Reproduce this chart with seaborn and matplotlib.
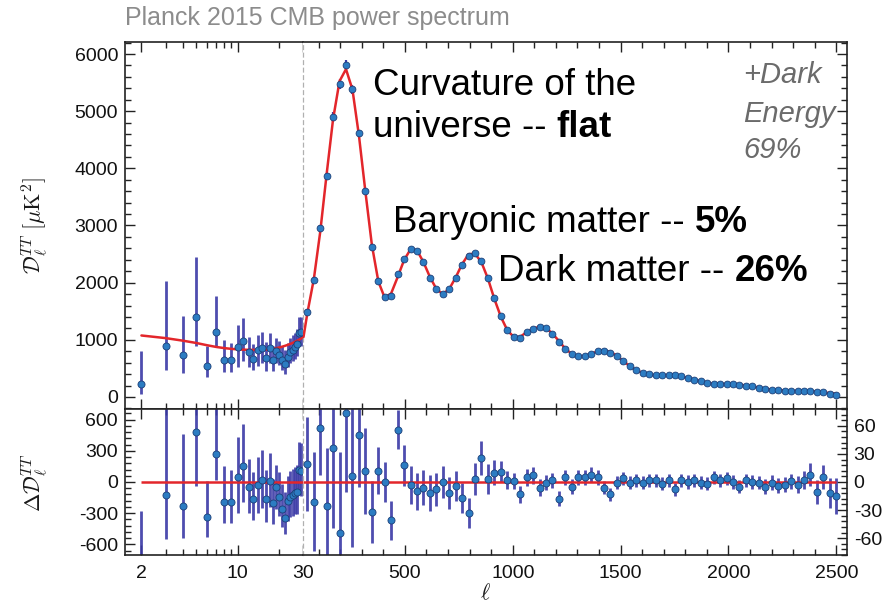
import matplotlib
matplotlib.use("Agg")
import matplotlib.pyplot as plt
import seaborn as sns
import numpy as np
import pandas as pd
from matplotlib.ticker import FixedLocator, NullFormatter, FuncFormatter, MultipleLocator, AutoMinorLocator

sns.set_style("ticks")
plt.rcParams['font.family'] = ['Liberation Sans', 'DejaVu Sans']
plt.rcParams['mathtext.fontset'] = 'cm'
plt.rcParams['axes.unicode_minus'] = False

# ---------------- data ----------------
ell_low = [2, 3, 4, 5, 6, 7, 8, 9, 10, 11, 12, 13, 14, 15, 16, 17, 18, 19,
           20, 21, 22, 23, 24, 25, 26, 27, 28, 29]
dl_low = [230, 890, 730, 1405, 540, 1135, 655, 650, 875, 985, 780, 670, 815, 860,
          680, 850, 655, 812, 740, 650, 570, 705, 785, 825, 870, 930, 1125, 1135]
err_low_plus = [570, 1140, 690, 1050, 350, 630, 340, 300, 390, 400, 270, 265, 270, 285,
                275, 275, 235, 220, 240, 240, 245, 245, 250, 255, 255, 260, 270, 270]
err_low_minus = [180, 420, 310, 520, 190, 250, 210, 210, 350, 350, 255, 205, 270, 270,
                 225, 250, 205, 210, 180, 180, 160, 185, 190, 200, 205, 210, 230, 235]
res_low = [-846, -129, -229, 484, -339, 271, -188, -188, 48, 158, -48, -164, -26, 22,
           -161, 6, -203, -52, -148, -258, -342, -187, -148, -129, -106, -97, 113, 103]

model_ell_low = [2, 3, 4, 5, 6, 7, 8, 9, 10, 11, 12, 13, 14, 15, 16, 17, 18, 19,
                 20, 21, 22, 23, 24, 25, 26, 27, 28, 29, 30]
model_low = [1076, 1030, 985, 945, 905, 875, 855, 842, 833, 828, 825, 824, 824, 826,
             830, 836, 844, 854, 866, 880, 895, 911, 928, 946, 965, 985, 1006, 1028, 1050]

ell_high = [48, 78, 108, 137, 167, 197, 227, 257, 287, 317, 347, 377, 406, 436, 466,
            496, 526, 556, 586, 616, 646, 676, 706, 735, 765, 795, 825, 855, 885, 915,
            945, 975, 1005, 1034, 1064, 1094, 1124, 1154, 1184, 1214, 1244, 1274, 1304,
            1333, 1363, 1393, 1423, 1453, 1483, 1513, 1543, 1573, 1603, 1632, 1662, 1692,
            1722, 1752, 1782, 1812, 1842, 1872, 1902, 1931, 1961, 1991, 2021, 2051, 2081,
            2111, 2141, 2171, 2201, 2230, 2260, 2290, 2320, 2350, 2380, 2410, 2440, 2470,
            2500]
dl_high = [1489, 2044, 2960, 3865, 4893, 5471, 5809, 5383, 4623, 3602, 2627, 2032, 1741,
           1769, 2149, 2411, 2581, 2557, 2354, 2088, 1881, 1799, 1881, 2084, 2306, 2464,
           2511, 2382, 2073, 1723, 1413, 1168, 1051, 1039, 1138, 1197, 1226, 1209, 1110,
           963, 847, 748, 716, 720, 760, 806, 806, 777, 718, 630, 538, 468, 420, 397, 380,
           380, 385, 380, 362, 333, 303, 275, 252, 234, 234, 228, 222, 216, 199, 187, 164,
           140, 129, 117, 111, 105, 105, 111, 105, 88, 82, 59, 41]
res_high = [19, -21, 58, -26, 36, -54, 74, 6, 50, 12, -32, 12, 0, -41, 56, 18, -3, -10,
            -6, -12, -8, 0, -12, -4, -17, -33, 3, 26, 3, 10, 11, 2, 1, -13, 5, 7, -6, -1,
            2, -18, 5, -5, 5, 5, 8, 5, -6, -13, -1, 4, -1, 2, -1, 2, 2, -2, 2, -8, 2, 0,
            2, -1, -2, 5, 2, 4, 0, -5, 2, 0, -1, -5, -1, -4, -3, 1, -3, 2, 8, -11, 5,
            -12, -15]
err_high = [50, 53, 50, 62, 85, 86, 85, 75, 55, 46, 33, 25, 21, 21, 21, 22, 20, 20, 19,
            19, 18, 17, 17, 16, 16, 16, 17, 18, 16, 13, 11, 10, 9, 9, 9, 9, 9, 8, 8, 8,
            8, 8, 8, 8, 8, 8, 7, 7, 7, 7, 7, 7, 7, 7, 7, 7, 7, 7, 7, 7, 7, 7, 7, 7, 7,
            7, 7, 7, 7, 7, 7, 8, 8, 8, 8, 8, 9, 10, 12, 13, 13, 16, 19]

model_ell_high = [30] + ell_high
model_high = [1050, 1470, 2065, 2902, 3891, 4857, 5525, 5735, 5377, 4573, 3590, 2659,
              2020, 1741, 1810, 2093, 2393, 2584, 2567, 2360, 2100, 1889, 1799, 1893,
              2088, 2323, 2497, 2508, 2356, 2070, 1713, 1402, 1166, 1050, 1052, 1133,
              1190, 1232, 1210, 1108, 981, 842, 753, 711, 715, 752, 801, 812, 790, 719,
              626, 539, 466, 421, 395, 378, 382, 383, 388, 360, 333, 301, 276, 254, 229,
              232, 224, 222, 221, 197, 187, 165, 145, 130, 121, 114, 104, 108, 109, 97,
              99, 77, 71, 56]

low_ticks = [2, 10, 30]
low_minor = [3, 4, 5, 6, 7, 8, 9, 20]
top_yticks = [0, 1000, 2000, 3000, 4000, 5000, 6000]
res_left_ticks = [-600, -300, 0, 300, 600]
res_right_ticks = [-60, -30, 0, 30, 60]

# ---------------- style ----------------
RED = "#e3262b"
PT = "#2c7cc2"
PTE = "#1c3f78"
BAR = "#3b3aa6"
SPINE = "#222222"
W, H = 895, 609

fig = plt.figure(figsize=(W / 100, H / 100), dpi=100)

XL0, XB, XR = 125, 303.5, 846.7
YT, YM, YB = 42, 409, 555

def rect(x0, x1, y0, y1):
    return [x0 / W, 1 - y1 / H, (x1 - x0) / W, (y1 - y0) / H]

ax_tl = fig.add_axes(rect(XL0, XB, YT, YM))
ax_tr = fig.add_axes(rect(XB, XR, YT, YM))
ax_bl = fig.add_axes(rect(XL0, XB, YM, YB))
ax_br = fig.add_axes(rect(XB, XR, YM, YB))

# --- top low-l
ax_tl.errorbar(ell_low, dl_low, yerr=[err_low_minus, err_low_plus], fmt='none',
               ecolor=BAR, elinewidth=2.0, capsize=0, alpha=0.9, zorder=2)
sns.lineplot(x=model_ell_low, y=model_low, ax=ax_tl, color=RED, lw=1.8,
             sort=False, estimator=None, zorder=3)
sns.scatterplot(x=ell_low, y=dl_low, ax=ax_tl, s=26, color=PT, edgecolor=PTE,
                linewidth=0.6, zorder=4)

# --- top high-l
ax_tr.errorbar(ell_high, dl_high, yerr=err_high, fmt='none', ecolor=BAR,
               elinewidth=1.6, capsize=0, zorder=2)
sns.lineplot(x=model_ell_high, y=model_high, ax=ax_tr, color=RED, lw=1.8,
             sort=False, estimator=None, zorder=3)
sns.scatterplot(x=ell_high, y=dl_high, ax=ax_tr, s=24, color=PT, edgecolor=PTE,
                linewidth=0.6, zorder=4)

# --- residual low-l
ax_bl.errorbar(ell_low, res_low, yerr=[err_low_minus, err_low_plus], fmt='none',
               ecolor=BAR, elinewidth=2.0, capsize=0, alpha=0.9, zorder=2)
ax_bl.hlines(0, ell_low[0], 30, color=RED, lw=1.8, zorder=3)
sns.scatterplot(x=ell_low, y=res_low, ax=ax_bl, s=26, color=PT, edgecolor=PTE,
                linewidth=0.6, zorder=4)

# --- residual high-l
ax_br.errorbar(ell_high, res_high, yerr=err_high, fmt='none', ecolor=BAR,
               elinewidth=2.0, capsize=0, alpha=0.9, zorder=2)
ax_br.hlines(0, 30, ell_high[-1], color=RED, lw=1.8, zorder=3)
sns.scatterplot(x=ell_high, y=res_high, ax=ax_br, s=26, color=PT, edgecolor=PTE,
                linewidth=0.6, zorder=4)

# --- axes setup
for ax in (ax_tl, ax_bl):
    ax.set_xscale('log')
    ax.set_xlim(1.52, 30)
    ax.xaxis.set_major_locator(FixedLocator(low_ticks))
    ax.xaxis.set_major_formatter(FuncFormatter(lambda v, p: f"{v:g}"))
    ax.xaxis.set_minor_locator(FixedLocator(low_minor))
    ax.xaxis.set_minor_formatter(NullFormatter())
    ax.spines['right'].set_visible(False)
for ax in (ax_tr, ax_br):
    ax.set_xlim(30, 2548)
    ax.xaxis.set_major_locator(MultipleLocator(500))
    ax.xaxis.set_minor_locator(MultipleLocator(100))
    ax.spines['left'].set_linestyle((0, (3, 3)))
    ax.spines['left'].set_color('#b0b0b0')
    ax.spines['left'].set_linewidth(0.9)

for ax in (ax_tl, ax_tr):
    ax.set_ylim(-210, 6210)
    ax.yaxis.set_major_locator(FixedLocator(top_yticks))
    ax.yaxis.set_minor_locator(AutoMinorLocator(5))
ax_bl.set_ylim(-703, 703)
ax_bl.yaxis.set_major_locator(FixedLocator(res_left_ticks))
ax_bl.yaxis.set_minor_locator(AutoMinorLocator(5))
ax_br.set_ylim(-78, 78)
ax_br.yaxis.set_major_locator(FixedLocator(res_right_ticks))
ax_br.yaxis.set_minor_locator(AutoMinorLocator(5))

for ax in (ax_tl, ax_tr, ax_bl, ax_br):
    ax.set_xlabel('')
    ax.set_ylabel('')
    for s in ('top', 'bottom', 'left', 'right'):
        if not (s == 'left' and ax in (ax_tr, ax_br)):
            ax.spines[s].set_linewidth(1.2)
            ax.spines[s].set_color(SPINE)
    ax.tick_params(which='both', direction='in', top=True, bottom=True,
                   color=SPINE, width=1.0, labelsize=14, labelcolor='#111111')
    ax.tick_params(which='major', length=7, pad=5)
    ax.tick_params(which='minor', length=4)
    ax.tick_params(axis='x', which='major', pad=7)

ax_tl.tick_params(which='both', left=True, right=False, labelbottom=False)
ax_tr.tick_params(which='both', left=False, right=True, labelleft=False, labelbottom=False)
ax_bl.tick_params(which='both', left=True, right=False, labelbottom=True)
ax_br.tick_params(which='both', left=False, right=True, labelleft=False,
                  labelright=True, labelbottom=True)

# --- labels
fig.text(35 / W, 1 - 226 / H, r'$\mathcal{D}_\ell^{TT}\ [\mu{\rm K}^2]$', rotation=90,
         ha='center', va='center', fontsize=16, color='#1a1a1a')
fig.text(35 / W, 1 - 483 / H, r'$\Delta\mathcal{D}_\ell^{TT}$', rotation=90,
         ha='center', va='center', fontsize=16, color='#1a1a1a')
fig.text(485 / W, 1 - 594 / H, r'$\ell$', ha='center', va='center', fontsize=16,
         color='#1a1a1a')

fig.text(125 / W, 1 - 25 / H, 'Planck 2015 CMB power spectrum', fontsize=18,
         color='#8c8c8c', ha='left', va='baseline')

fig.canvas.draw()
renderer = fig.canvas.get_renderer()

def text_width(txt, size, weight='normal'):
    t = fig.text(0, 0, txt, fontsize=size, fontweight=weight)
    w = t.get_window_extent(renderer=renderer).width
    t.remove()
    return w

def mixed_text(x_px, base_px, parts, size, color='black'):
    x = x_px
    space = text_width('x x', size) - text_width('xx', size)
    for i, (txt, weight) in enumerate(parts):
        if i > 0:
            x += space
        t = fig.text(x / W, 1 - base_px / H, txt, fontsize=size, fontweight=weight,
                     color=color, ha='left', va='baseline')
        x = t.get_window_extent(renderer=renderer).x1

ANN = 26.5
fig.text(373 / W, 1 - 95 / H, 'Curvature of the', fontsize=ANN, color='black',
         ha='left', va='baseline')
mixed_text(373, 137, [('universe --', 'normal'), ('flat', 'bold')], ANN)
mixed_text(393, 232, [('Baryonic matter --', 'normal'), ('5%', 'bold')], ANN)
mixed_text(498, 281, [('Dark matter --', 'normal'), ('26%', 'bold')], ANN)

for txt, base in (('+Dark', 83), ('Energy', 122), ('69%', 158)):
    fig.text(743 / W, 1 - base / H, txt, fontsize=21, style='italic', color='#6b6b6b',
             ha='left', va='baseline')

fig.savefig('out.png', dpi=100)
